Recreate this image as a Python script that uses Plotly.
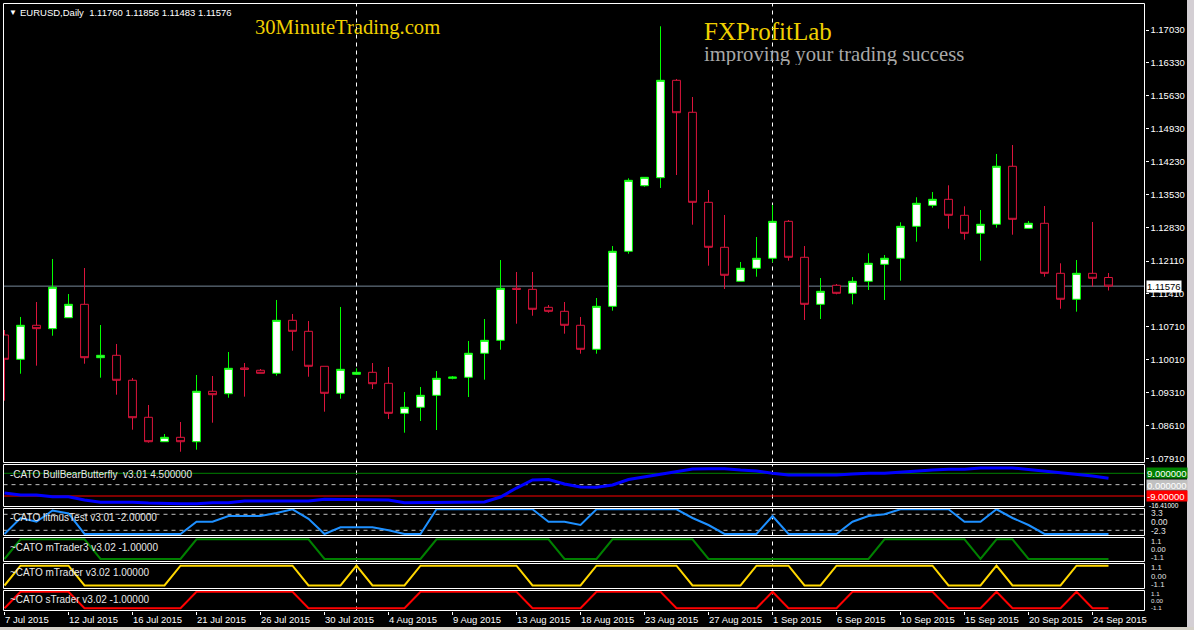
import plotly.graph_objects as go
from datetime import datetime

# ---------------- data ----------------
dates = [
    "2015-07-07", "2015-07-08", "2015-07-09", "2015-07-10", "2015-07-12", "2015-07-13", "2015-07-14",
    "2015-07-15", "2015-07-16", "2015-07-17", "2015-07-19", "2015-07-20", "2015-07-21", "2015-07-22",
    "2015-07-23", "2015-07-24", "2015-07-26", "2015-07-27", "2015-07-28", "2015-07-29", "2015-07-30",
    "2015-07-31", "2015-08-02", "2015-08-03", "2015-08-04", "2015-08-05", "2015-08-06", "2015-08-07",
    "2015-08-09", "2015-08-10", "2015-08-11", "2015-08-12", "2015-08-13", "2015-08-14", "2015-08-16",
    "2015-08-17", "2015-08-18", "2015-08-19", "2015-08-20", "2015-08-21", "2015-08-23", "2015-08-24",
    "2015-08-25", "2015-08-26", "2015-08-27", "2015-08-28", "2015-08-30", "2015-08-31", "2015-09-01",
    "2015-09-02", "2015-09-03", "2015-09-04", "2015-09-06", "2015-09-07", "2015-09-08", "2015-09-09",
    "2015-09-10", "2015-09-11", "2015-09-13", "2015-09-14", "2015-09-15", "2015-09-16", "2015-09-17",
    "2015-09-18", "2015-09-20", "2015-09-21", "2015-09-22", "2015-09-23", "2015-09-24", "2015-09-25",
]

opens = [1.10535, 1.10018, 1.10742, 1.10670, 1.10904, 1.11189, 1.10052, 1.10103, 1.09571, 1.08783,
         1.08263, 1.08357, 1.08263, 1.09337, 1.09285, 1.09833, 1.09784, 1.09720, 1.10848, 1.10614,
         1.09869, 1.09294, 1.09698, 1.09741, 1.09507, 1.08868, 1.08996, 1.09251, 1.09613, 1.09635,
         1.10146, 1.10422, 1.11530, 1.11508, 1.11125, 1.11040, 1.10742, 1.10231, 1.11146, 1.12318,
         1.13714, 1.13885, 1.15959, 1.15278, 1.13361, 1.12403, 1.11679, 1.11956, 1.12169, 1.12956,
         1.12190, 1.11189, 1.11594, 1.11423, 1.11679, 1.12041, 1.12169, 1.12850, 1.13297, 1.13425,
         1.13084, 1.12701, 1.12893, 1.14128, 1.12807, 1.12914, 1.11849, 1.11296, 1.11849, 1.11760]
highs = [1.10642, 1.10919, 1.11238, 1.12154, 1.11408, 1.11962, 1.10748, 1.10344, 1.09620, 1.09045,
         1.08427, 1.08683, 1.09684, 1.09662, 1.10173, 1.09939, 1.09811, 1.11281, 1.10983, 1.10833,
         1.09869, 1.11132, 1.09826, 1.09939, 1.09854, 1.09322, 1.09428, 1.09769, 1.09662, 1.10408,
         1.10876, 1.12132, 1.11877, 1.11877, 1.11174, 1.11238, 1.10919, 1.11323, 1.12430, 1.13872,
         1.13893, 1.17109, 1.15987, 1.15603, 1.13623, 1.13091, 1.12090, 1.12622, 1.13304, 1.12984,
         1.12430, 1.11749, 1.11621, 1.11770, 1.12275, 1.12239, 1.12935, 1.13468, 1.13580, 1.13723,
         1.13276, 1.13197, 1.14390, 1.14581, 1.12963, 1.13282, 1.12062, 1.12132, 1.12942, 1.11856]
lows = [1.09136, 1.09711, 1.09882, 1.10520, 1.10904, 1.09924, 1.09626, 1.09264, 1.08519, 1.08242,
        1.08263, 1.08050, 1.08093, 1.08668, 1.09200, 1.09222, 1.09720, 1.09669, 1.10201, 1.09647,
        1.08902, 1.09179, 1.09698, 1.09385, 1.08747, 1.08455, 1.08704, 1.08512, 1.09592, 1.09215,
        1.09584, 1.10222, 1.10776, 1.10946, 1.11010, 1.10563, 1.10137, 1.10137, 1.11053, 1.12266,
        1.13693, 1.13666, 1.13942, 1.12884, 1.12011, 1.11515, 1.11679, 1.11777, 1.12083, 1.12118,
        1.10855, 1.10876, 1.11402, 1.11189, 1.11494, 1.11281, 1.11692, 1.12522, 1.13246, 1.12799,
        1.12565, 1.12118, 1.12820, 1.12671, 1.12807, 1.11777, 1.11095, 1.11032, 1.11564, 1.11483]
closes = [1.10018, 1.10742, 1.10670, 1.11551, 1.11189, 1.10052, 1.10103, 1.09571, 1.08774, 1.08263,
          1.08357, 1.08263, 1.09337, 1.09264, 1.09826, 1.09805, 1.09720, 1.10848, 1.10614, 1.09869,
          1.09294, 1.09805, 1.09741, 1.09498, 1.08868, 1.08996, 1.09251, 1.09613, 1.09641, 1.10146,
          1.10422, 1.11530, 1.11508, 1.11083, 1.11040, 1.10742, 1.10231, 1.11146, 1.12318, 1.13829,
          1.13893, 1.15959, 1.15269, 1.13361, 1.12403, 1.11807, 1.11956, 1.12169, 1.12956, 1.12190,
          1.11189, 1.11466, 1.11423, 1.11679, 1.12062, 1.12169, 1.12850, 1.13340, 1.13425, 1.13084,
          1.12701, 1.12893, 1.14128, 1.12999, 1.12914, 1.11849, 1.11296, 1.11849, 1.11743, 1.11576]

# CATO BullBearButterfly
bbf = [-6.6, -8.2, -8.2, -9.6, -9.6, -12.2, -14.0, -14.0, -14.0, -14.6,
       -15.1, -15.1, -15.1, -14.3, -14.3, -13.0, -13.0, -13.0, -13.0, -13.0,
       -11.6, -11.6, -11.6, -11.6, -12.2, -14.3, -14.3, -14.3, -14.3, -14.3,
       -13.8, -9.8, -2.7, 3.7, 4.1, 0.5, -1.9, -2.1, -0.3, 4.1,
       6.1, 8.4, 10.4, 12.4, 12.7, 12.7, 11.6, 10.8, 9.0, 7.7,
       7.7, 7.7, 7.7, 8.4, 9.0, 9.0, 10.0, 10.8, 11.6, 12.2,
       12.2, 13.2, 13.4, 13.2, 12.0, 10.8, 9.2, 8.4, 6.9, 5.0]
bbf_levels = [9.0, 0.0, -9.0]

# CATO litmusTest
litmus = [-3.36, 1.24, 0.17, 3.39, 2.53, -3.36, -3.36, -3.36, -3.36, -3.36,
          -3.36, -3.36, 0.17, 0.17, 1.81, 1.81, 1.81, 2.67, 3.74, 1.0,
          -3.36, -1.44, -1.44, -1.44, -2.3, -3.36, -3.36, 3.74, 3.74, 3.74,
          3.74, 3.74, 3.74, 3.74, 0.17, 0.17, -0.78, 3.74, 3.74, 3.74,
          3.74, 3.74, 3.74, 1.24, -0.78, -3.36, -3.36, -3.36, 1.81, -3.36,
          -3.36, -3.36, -3.36, 0.17, 1.81, 2.3, 3.74, 3.74, 3.74, 3.74,
          0.17, 0.17, 3.74, 1.24, -0.78, -3.36, -3.36, -3.36, -3.36, -3.36]
litmus_levels = [2.3, -2.3]

# CATO mTrader3 / mTrader / sTrader
mtrader3 = [-1, 1, 1, 1, 1, 1, -1, -1, -1, -1,
            -1, -1, 1, 1, 1, 1, 1, 1, 1, 1,
            -1, -1, -1, -1, -1, -1, -1, 1, 1, 1,
            1, 1, 1, 1, 1, -1, -1, -1, 1, 1,
            1, 1, 1, 1, -1, -1, -1, -1, -1, -1,
            -1, -1, -1, -1, -1, 1, 1, 1, 1, 1,
            1, -1, 1, 1, -1, -1, -1, -1, -1, -1]
mtrader = [-1, 1, 1, 1, 1, -1, -1, -1, -1, -1,
           -1, 1, 1, 1, 1, 1, 1, 1, 1, -1,
           -1, -1, 1, -1, -1, -1, 1, 1, 1, 1,
           1, 1, 1, -1, -1, -1, -1, 1, 1, 1,
           1, 1, 1, -1, -1, -1, -1, 1, 1, 1,
           -1, -1, 1, 1, 1, 1, 1, 1, 1, -1,
           -1, -1, 1, -1, -1, -1, -1, 1, 1, 1]
strader = [-1, 1, 1, 1, 1, -1, -1, -1, -1, -1,
           -1, -1, 1, 1, 1, 1, 1, 1, 1, -1,
           -1, -1, -1, -1, -1, -1, 1, 1, 1, 1,
           1, 1, 1, -1, -1, -1, -1, 1, 1, 1,
           1, 1, -1, -1, -1, -1, -1, -1, 1, -1,
           -1, -1, -1, 1, 1, 1, 1, 1, 1, -1,
           -1, -1, 1, -1, -1, -1, -1, 1, -1, -1]

price_ticks = [1.07910, 1.08610, 1.09310, 1.10010, 1.10710, 1.11410, 1.12110,
               1.12830, 1.13530, 1.14230, 1.14930, 1.15630, 1.16330, 1.17030]

panel_titles = ["-CATO BullBearButterfly  v3.01 4.500000",
                "-CATO litmusTest v3.01 -2.00000",
                "~CATO mTrader3 v3.02 -1.00000",
                "~CATO mTrader v3.02 1.00000",
                "~CATO sTrader v3.02 -1.00000"]
panel_scale_labels = [["3.3", "0.00", "-2.3"], ["1.1", "0.00", "-1.1"],
                      ["1.1", "0.00", "-1.1"], ["1.1", "0.00", "-1.1"]]

# ---------------- layout geometry (pixels) ----------------
W, H = 1194, 630
XL, XR = 3.5, 1144.5
BAR0, STEP = 4.5, 16.0
panels = [(3.5, 462.5), (464.5, 506.5), (508.5, 535.5), (537.5, 561.5), (563.5, 588.5), (590.5, 610.5)]
ranges = [(1.078203, 1.175943), (-17.33, 15.98), (-3.793, 3.966), (-1.254, 1.183), (-1.303, 1.222), (-1.265, 1.145)]

def fx(px):
    return px / W

def fy(py):
    return 1 - py / H

idx = list(range(len(dates)))
dts = [datetime.strptime(d, "%Y-%m-%d") for d in dates]
tick_idx = idx[::4]
tick_text = [f"{dts[i].day} {dts[i].strftime('%b %Y')}" for i in tick_idx]
month_starts = [i for i in idx if i > 0 and dts[i].month != dts[i - 1].month]

FONT = "Liberation Sans"
fig = go.Figure()

fig.add_trace(go.Candlestick(
    x=idx, open=opens, high=highs, low=lows, close=closes,
    increasing=dict(line=dict(color="#00ff00", width=1), fillcolor="#ffffff"),
    decreasing=dict(line=dict(color="#dc143c", width=1), fillcolor="#000000"),
    whiskerwidth=0, hoverinfo="skip", xaxis="x", yaxis="y"))

fig.add_trace(go.Scatter(x=idx, y=bbf, mode="lines", line=dict(color="#0000ff", width=3),
                         xaxis="x", yaxis="y2", hoverinfo="skip"))
fig.add_trace(go.Scatter(x=idx, y=litmus, mode="lines", line=dict(color="#1e90ff", width=2),
                         xaxis="x", yaxis="y3", hoverinfo="skip"))
fig.add_trace(go.Scatter(x=idx, y=mtrader3, mode="lines", line=dict(color="#008000", width=2),
                         xaxis="x", yaxis="y4", hoverinfo="skip"))
fig.add_trace(go.Scatter(x=idx, y=mtrader, mode="lines", line=dict(color="#ffd700", width=2),
                         xaxis="x", yaxis="y5", hoverinfo="skip"))
fig.add_trace(go.Scatter(x=idx, y=strader, mode="lines", line=dict(color="#ff0000", width=2),
                         xaxis="x", yaxis="y6", hoverinfo="skip"))

xr = ((XL - BAR0) / STEP, (XR - BAR0) / STEP)
layout = dict(
    width=W, height=H, margin=dict(l=0, r=0, t=0, b=0),
    paper_bgcolor="#000000", plot_bgcolor="#000000", showlegend=False,
    font=dict(family=FONT, color="#ffffff", size=10),
    xaxis=dict(domain=[fx(XL), fx(XR)], range=list(xr), anchor="free", position=fy(610.5),
               tickmode="array", tickvals=tick_idx, ticks="outside", showticklabels=False,
               ticklen=3, tickcolor="#ffffff", showgrid=False, zeroline=False, showline=False,
               rangeslider=dict(visible=False), fixedrange=True),
)
for k, ((top, bot), rg) in enumerate(zip(panels, ranges)):
    name = "yaxis" if k == 0 else f"yaxis{k + 1}"
    ax = dict(domain=[fy(bot), fy(top)], range=list(rg), showgrid=False, zeroline=False,
              showline=False, fixedrange=True)
    if k == 0:
        ax.update(side="right", anchor="free", position=fx(XR), tickmode="array",
                  tickvals=price_ticks, ticktext=[f"{v:.5f}" for v in price_ticks],
                  ticks="outside", ticklen=3, tickcolor="#ffffff",
                  tickfont=dict(family=FONT, size=9.5, color="#ffffff"))
    else:
        ax.update(anchor="x", showticklabels=False, ticks="")
    layout[name] = ax
fig.update_layout(**layout)

shapes = []
# outer window border strips
shapes.append(dict(type="rect", xref="paper", yref="paper", x0=fx(1187), x1=1, y0=0, y1=1,
                   fillcolor="#d4cfd4", line=dict(width=0), layer="above"))
shapes.append(dict(type="rect", xref="paper", yref="paper", x0=0, x1=1, y0=0, y1=fy(627),
                   fillcolor="#d4d0c8", line=dict(width=0), layer="above"))
# panel frames
for top, bot in panels:
    shapes.append(dict(type="rect", xref="paper", yref="paper", x0=fx(XL), x1=fx(XR),
                       y0=fy(bot), y1=fy(top), line=dict(color="#ffffff", width=1),
                       fillcolor="rgba(0,0,0,0)", layer="above"))
# month separators
for i in month_starts:
    for k, (top, bot) in enumerate(panels):
        shapes.append(dict(type="line", xref="x", yref="paper", x0=i, x1=i, y0=fy(bot), y1=fy(top),
                           line=dict(color="#ffffff", width=1, dash="4px,4px"), layer="below"))
# current price line
shapes.append(dict(type="line", xref="paper", yref="y", x0=fx(XL), x1=fx(XR),
                   y0=closes[-1], y1=closes[-1], line=dict(color="#778899", width=1), layer="below"))
# indicator levels
lvl_col = {9.0: ("#008000", "solid"), 0.0: ("#c0c0c0", "4px,4px"), -9.0: ("#ff0000", "solid")}
for lv in bbf_levels:
    c, d = lvl_col[lv]
    shapes.append(dict(type="line", xref="paper", yref="y2", x0=fx(XL), x1=fx(XR), y0=lv, y1=lv,
                       line=dict(color=c, width=1, dash=d), layer="below"))
for lv in litmus_levels:
    shapes.append(dict(type="line", xref="paper", yref="y3", x0=fx(XL), x1=fx(XR), y0=lv, y1=lv,
                       line=dict(color="#c0c0c0", width=1, dash="4px,4px"), layer="below"))
fig.update_layout(shapes=shapes)

ann = []
ann.append(dict(text="▼", x=fx(7), y=fy(12), xref="paper", yref="paper", xanchor="left",
                yanchor="middle", showarrow=False, font=dict(size=8, color="#ffffff")))
ann.append(dict(text=f"EURUSD,Daily  {opens[-1]:.5f} {highs[-1]:.5f} {lows[-1]:.5f} {closes[-1]:.5f}",
                x=fx(18), y=fy(12), xref="paper", yref="paper", xanchor="left", yanchor="middle",
                showarrow=False, font=dict(size=9.5, color="#ffffff", family=FONT)))
ann.append(dict(text="30MinuteTrading.com", x=fx(253), y=fy(28), xref="paper", yref="paper",
                xanchor="left", yanchor="middle", showarrow=False,
                font=dict(size=20.6, color="#f0d000", family="Liberation Serif")))
ann.append(dict(text="FXProfitLab", x=fx(702), y=fy(31), xref="paper", yref="paper",
                xanchor="left", yanchor="middle", showarrow=False, height=26,
                font=dict(size=25, color="#f0d000", family="Liberation Serif")))
ann.append(dict(text="improving your trading success", x=fx(702), y=fy(54), xref="paper",
                yref="paper", xanchor="left", yanchor="middle", showarrow=False, height=22,
                font=dict(size=20.7, color="#a8a8a8", family="Liberation Serif")))
title_y = [474, 517, 547, 572.5, 599]
for t, yy in zip(panel_titles, title_y):
    ann.append(dict(text=t, x=fx(8), y=fy(yy), xref="paper", yref="paper", xanchor="left",
                    yanchor="middle", showarrow=False,
                    font=dict(size=10, color="#e8e8e8", family=FONT)))
# date labels (left-aligned at their tick, as in MT4)
for i, t in zip(tick_idx, tick_text):
    ann.append(dict(text=t, x=i, y=fy(619), xref="x", yref="paper", xanchor="left",
                    yanchor="middle", xshift=-2, showarrow=False,
                    font=dict(size=9.5, color="#ffffff", family=FONT)))
# current price box
ann.append(dict(text=f"{closes[-1]:.5f}", x=fx(1146), y=closes[-1], xref="paper", yref="y",
                xanchor="left", yanchor="middle", showarrow=False, bgcolor="#ffffff",
                font=dict(size=9.5, color="#000000", family=FONT), borderpad=0))
# BullBearButterfly level boxes
ann.append(dict(text="-16.41000", x=fx(1147), y=fy(505.5), xref="paper", yref="paper", xanchor="left",
                yanchor="middle", showarrow=False, font=dict(size=6.5, color="#ffffff", family=FONT)))
for lv, bg, fc in [(9.0, "#008000", "#ffffff"), (0.0, "#c0c0c0", "#ffffff"), (-9.0, "#ff0000", "#ffffff")]:
    ann.append(dict(text=f"{lv:.6f}" if lv >= 0 else f"{lv:.5f}", x=fx(1146), y=lv, xref="paper",
                    yref="y2", xanchor="left", yanchor="middle", showarrow=False, bgcolor=bg,
                    width=40, height=10, align="left", borderpad=0,
                    font=dict(size=9.5, color=fc, family=FONT)))
# small scale labels of the indicator panels, packed into each panel's height
for (top, bot), labels in zip(panels[2:], panel_scale_labels):
    hgt = bot - top
    fs = min(9.0, hgt / 3.0 - 0.5)
    for j, t in enumerate(labels):
        yy = top + hgt * (j + 0.5) / 3.0
        ann.append(dict(text=t, x=fx(1149), y=fy(yy), xref="paper", yref="paper", xanchor="left",
                        yanchor="middle", showarrow=False,
                        font=dict(size=fs, color="#e0e0e0", family=FONT)))
fig.update_layout(annotations=ann)

fig.write_html("out.html", config={"displayModeBar": False},
               post_script="document.body.style.margin='0';document.body.style.overflow='hidden';")
